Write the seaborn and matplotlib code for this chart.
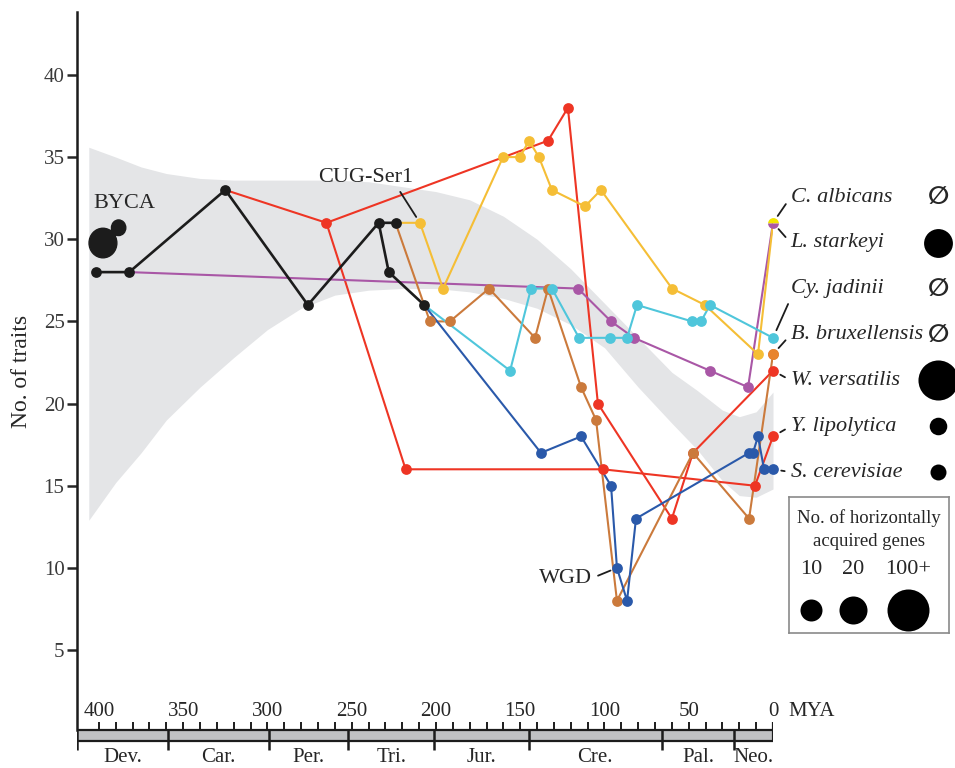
import numpy as np
import pandas as pd
import matplotlib
matplotlib.use('Agg')
import matplotlib.pyplot as plt
import seaborn as sns
from matplotlib.patches import Ellipse

# ---- trait counts along each lineage (MYA, No. of traits), oldest node first ----
stem_mya = [402, 382, 325, 276, 234, 224]
stem_traits = [28, 28, 33, 26, 31, 31]
stem2_mya = [234, 228, 207]
stem2_traits = [31, 28, 26]

wver_mya = [325, 265, 133.5, 121.7, 103.9, 60, 47.5, 0]
wver_traits = [33, 31, 36, 38, 20, 13, 17, 22]
ylip_mya = [265, 218, 101, 10.7, 0]
ylip_traits = [31, 16, 16, 15, 18]
calb_mya = [224, 209.5, 195.8, 160.2, 150.1, 144.8, 138.9, 131.2, 111.6, 102.1, 59.9, 40.4, 8.9, 0]
calb_traits = [31, 31, 27, 35, 35, 36, 35, 33, 32, 33, 27, 26, 23, 31]
lsta_mya = [382, 115.7, 96.1, 82.5, 37.4, 14.8, 0]
lsta_traits = [28, 27, 25, 24, 22, 21, 31]
cjad_mya = [207, 156, 143.6, 131.2, 115.1, 96.7, 86.6, 80.7, 48.1, 42.7, 37.4, 0]
cjad_traits = [26, 22, 27, 27, 24, 24, 24, 26, 25, 25, 26, 24]
bbru_mya = [224, 203.6, 191.7, 168.5, 141.2, 133.5, 113.9, 105, 92.6, 47.5, 14.2, 0]
bbru_traits = [31, 25, 25, 27, 24, 27, 21, 19, 8, 17, 13, 23]
scer_mya = [207, 137.7, 113.9, 96.1, 92.6, 86.6, 81.3, 14.2, 11.9, 8.9, 5.3, 0]
scer_traits = [26, 17, 18, 15, 10, 8, 13, 17, 17, 18, 16, 16]

# grey trend band
band_mya = [406, 390, 375, 360, 340, 320, 300, 280, 260, 240, 220, 200, 180, 160,
            140, 120, 100, 80, 60, 45, 30, 20, 10, 0]
band_upper = [35.6, 35.0, 34.4, 34.0, 33.7, 33.6, 33.6, 33.6, 33.6, 33.5, 33.2, 32.9,
              32.4, 31.4, 30.0, 28.2, 26.1, 24.0, 21.9, 20.8, 19.6, 19.2, 19.5, 20.7]
band_lower = [12.9, 15.2, 17.0, 19.0, 21.0, 22.8, 24.5, 25.8, 26.6, 26.9, 27.0, 27.0,
              26.8, 26.4, 25.8, 24.8, 23.4, 21.0, 18.8, 17.2, 15.3, 14.4, 14.3, 14.8]

species = ['C. albicans', 'L. starkeyi', 'Cy. jadinii', 'B. bruxellensis',
           'W. versatilis', 'Y. lipolytica', 'S. cerevisiae']
hgt_genes = [0, 22, 0, 0, 80, 6, 5]
legend_genes = [10, 20, 100]
legend_labels = ['10', '20', '100+']

periods = ['Dev.', 'Car.', 'Per.', 'Tri.', 'Jur.', 'Cre.', 'Pal.', 'Neo.']
period_edges = [413, 359, 299, 252, 201, 145, 66, 23, 0]
mya_ticks = [400, 350, 300, 250, 200, 150, 100, 50, 0]

# ---- colours ----
BLACK = '#1c1c1c'
RED = '#ee3524'
YELLOW = '#f5be36'
PURPLE = '#a957a6'
CYAN = '#4fc6db'
BROWN = '#cb7a3c'
BLUE = '#2a59aa'

lineages = [
    ('W. versatilis', wver_mya, wver_traits, RED),
    ('Y. lipolytica', ylip_mya, ylip_traits, RED),
    ('L. starkeyi', lsta_mya, lsta_traits, PURPLE),
    ('C. albicans', calb_mya, calb_traits, YELLOW),
    ('B. bruxellensis', bbru_mya, bbru_traits, BROWN),
    ('Cy. jadinii', cjad_mya, cjad_traits, CYAN),
    ('S. cerevisiae', scer_mya, scer_traits, BLUE),
]
end_of = {name: (m[-1], t[-1]) for name, m, t, c in lineages}

sns.set_style('white')
plt.rcParams['font.family'] = ['Liberation Serif', 'DejaVu Serif']

fig = plt.figure(figsize=(9.55, 7.68), dpi=100)
ax = fig.add_axes([77 / 955, 38 / 768, 696 / 955, 718 / 768])
ax.set_xlim(413, 0)
ax.set_ylim(0.134, 43.83)

ax.fill_between(band_mya, band_lower, band_upper, color='#e4e5e7', lw=0, zorder=0)

PT = 60  # marker area

# lines first
for name, m, t, c in lineages:
    sns.lineplot(x=m, y=t, sort=False, estimator=None, color=c, lw=1.5, ax=ax, zorder=2)
sns.lineplot(x=stem_mya, y=stem_traits, sort=False, estimator=None, color=BLACK, lw=1.9, ax=ax, zorder=3)
sns.lineplot(x=stem2_mya, y=stem2_traits, sort=False, estimator=None, color=BLACK, lw=1.9, ax=ax, zorder=3)

# points (the first node of each branch belongs to its parent)
for name, m, t, c in lineages:
    stop = len(m) - 1 if name in ('C. albicans', 'L. starkeyi') else len(m)
    sns.scatterplot(x=m[1:stop], y=t[1:stop], color=c, s=PT, linewidth=0, ax=ax, zorder=4, clip_on=False)
bbru_end = end_of['B. bruxellensis']
ax.scatter([bbru_end[0]], [bbru_end[1]], color='#e8842f', s=PT, lw=0, zorder=5, clip_on=False)
sns.scatterplot(x=stem_mya, y=stem_traits, color=BLACK, s=PT, linewidth=0, ax=ax, zorder=5)
sns.scatterplot(x=stem2_mya[1:], y=stem2_traits[1:], color=BLACK, s=PT, linewidth=0, ax=ax, zorder=5)
cal_end = end_of['C. albicans']
ax.plot([cal_end[0]], [cal_end[1]], marker='o', ms=7.8, fillstyle='top', markerfacecolor='#f2e400',
        markerfacecoloralt=PURPLE, markeredgewidth=0, ls='none', zorder=6, clip_on=False)

# BYCA yeast icon
ax.add_patch(Ellipse((397.6, 29.77), 16.5, 1.8, color=BLACK, zorder=5))
ax.add_patch(Ellipse((388.3, 30.7), 8.5, 0.95, color=BLACK, zorder=5))
ax.plot([397.6, 388.3], [29.77, 30.7], color=BLACK, lw=6, solid_capstyle='round', zorder=5)
ax.text(384.6, 32.15, 'BYCA', fontsize=16, ha='center', va='center')

ax.annotate('CUG-Ser1', xy=(calb_mya[1], calb_traits[1]), xytext=(241.5, 33.73),
            fontsize=16, ha='center', va='center',
            arrowprops=dict(arrowstyle='-', color=BLACK, lw=1.3, relpos=(0.83, 0.0),
                            shrinkA=1, shrinkB=5))
ax.annotate('WGD', xy=(scer_mya[4], scer_traits[4]), xytext=(123, 9.38),
            fontsize=16, ha='center', va='center',
            arrowprops=dict(arrowstyle='-', color=BLACK, lw=1.3, relpos=(1.0, 0.5),
                            shrinkA=2, shrinkB=5))

# species labels and horizontally acquired gene circles
def gene_diam(n):
    return 2 + 20 * np.log10(n)

for i, (sp, n) in enumerate(zip(species, hgt_genes)):
    ly = 32.57 - 2.79 * i
    rel = (0, 0) if sp == 'Cy. jadinii' else (0, 0.5)
    ax.annotate(sp, xy=end_of[sp], xytext=(-10.5, ly), fontsize=16, style='italic',
                ha='left', va='center', annotation_clip=False,
                arrowprops=dict(arrowstyle='-', color=BLACK, lw=1.3, relpos=rel,
                                shrinkA=2, shrinkB=6))
    if n == 0:
        ax.text(-98, ly, '\u2205', fontsize=18, family='DejaVu Sans', fontweight='bold',
                ha='center', va='center', clip_on=False)
    else:
        ax.scatter([-98], [ly], s=(gene_diam(n) * 0.72) ** 2, color='black', lw=0, clip_on=False)

ax.set_ylabel('No. of traits', fontsize=17, labelpad=8)
ax.set_yticks([5, 10, 15, 20, 25, 30, 35, 40])
ax.set_xticks([])
ax.tick_params(axis='y', direction='out', length=7, width=1.8, labelsize=15, pad=2,
               labelcolor='#3a3a3a', left=True)
for s in ['top', 'right', 'bottom']:
    ax.spines[s].set_visible(False)
ax.spines['left'].set_linewidth(1.8)
ax.spines['left'].set_color(BLACK)
ax.patch.set_visible(False)

# geological time scale
axt = fig.add_axes([77 / 955, 0, 696 / 955, 90 / 768])
axt.set_xlim(413, 0)
axt.set_ylim(768, 678)
axt.axis('off')
axt.fill_between([413, 0], 730, 741, color='#c0c1c3', lw=0)
axt.hlines([730, 741], 413, 0, color=BLACK, lw=1.6)
axt.vlines(np.arange(10, 410, 10), 722, 730, color=BLACK, lw=1.4)
axt.vlines([0], 722, 741, color=BLACK, lw=1.6)
axt.vlines(period_edges[:-1], 730, 750, color=BLACK, lw=1.8)
for v in mya_ticks:
    axt.text(v, 711, str(v), fontsize=15, ha='center', va='center')
axt.annotate('MYA', xy=(0, 711), xytext=(15, 0), textcoords='offset pixels',
             fontsize=15, ha='left', va='center')
for p, a, b in zip(periods, period_edges[:-1], period_edges[1:]):
    axt.text((a + b) / 2, 757, p, fontsize=15, ha='center', va='center')

# legend box for gene counts
axl = fig.add_axes([789 / 955, 135 / 768, 160 / 955, 136 / 768])
axl.set_xlim(0, 160)
axl.set_ylim(136, 0)
axl.set_xticks([])
axl.set_yticks([])
for s in axl.spines.values():
    s.set_color('#8a8a8a')
    s.set_linewidth(1.2)
axl.text(80, 21, 'No. of horizontally', fontsize=13.5, ha='center', va='center')
axl.text(80, 44, 'acquired genes', fontsize=13.5, ha='center', va='center')
leg_x = [22, 64, 119]
for x, n, lab in zip(leg_x, legend_genes, legend_labels):
    axl.text(x, 73, lab, fontsize=16, ha='center', va='center')
    axl.scatter([x], [113], s=(gene_diam(n) * 0.72) ** 2, color='black', lw=0, clip_on=False)

fig.savefig('out.png', dpi=100)
